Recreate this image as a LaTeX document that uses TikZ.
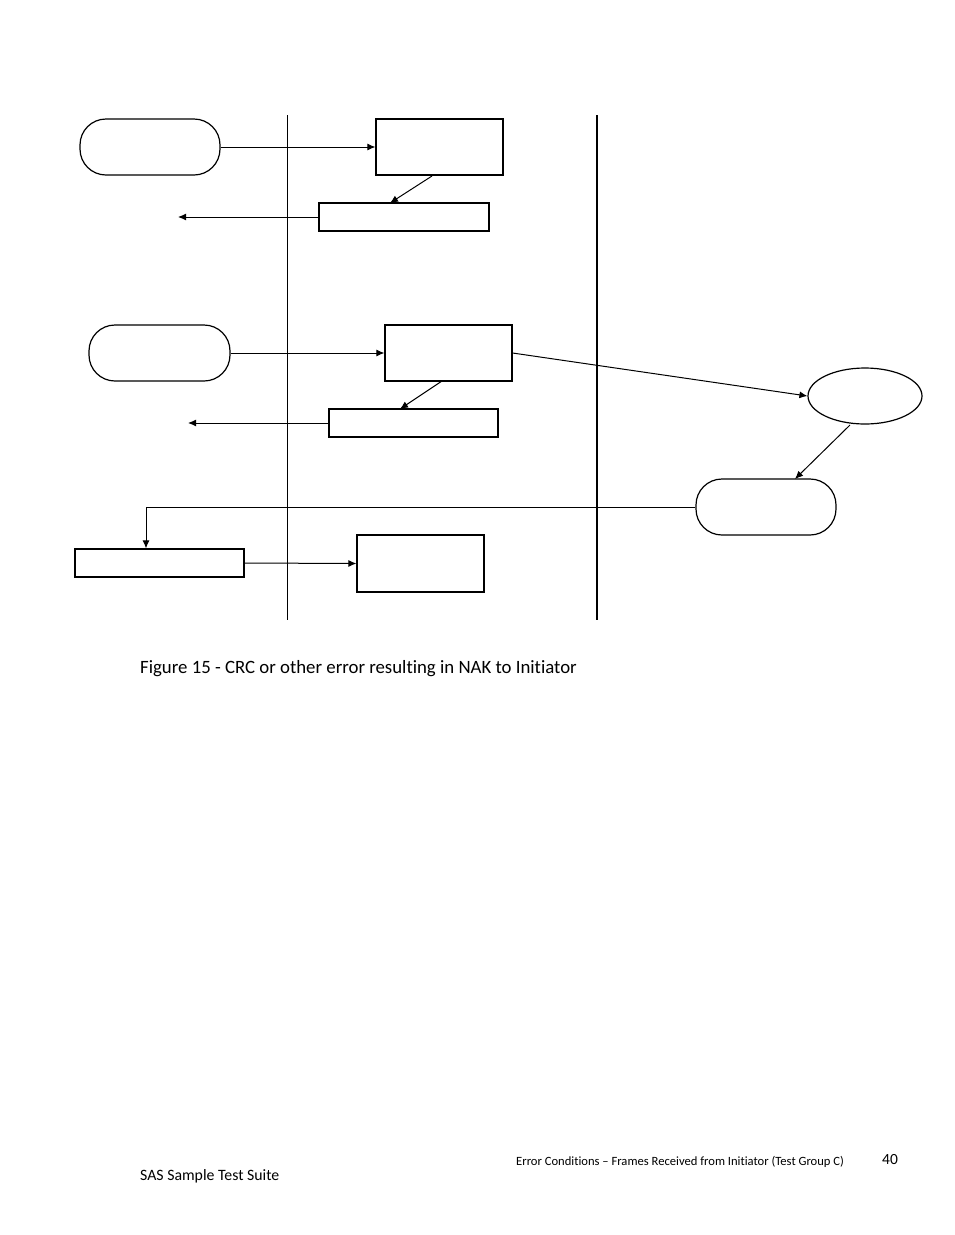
\documentclass[tikz,border=0pt]{standalone}
\usepackage{fontspec}
\setmainfont[Ligatures=NoCommon]{Carlito}
\usetikzlibrary{arrows.meta,shapes.geometric}
\begin{document}
\begin{tikzpicture}[x=1pt,y=-1pt,
  box/.style={draw,line width=1.2pt,inner sep=0pt},
  rbox/.style={draw,line width=1.2pt,rounded corners=26pt,inner sep=0pt},
  arr/.style={-{Latex[length=8pt,width=7pt]},line width=1pt},
  ln/.style={line width=1pt}]
\useasboundingbox (0,0) rectangle (954,1235);
\fill[white] (0,0) rectangle (954,1235);
\draw[line width=0.8pt] (287,115) -- (287,620);
\draw[line width=2pt] (597,115) -- (597,620);
\node[rbox,minimum width=140pt,minimum height=56pt] (r1) at (150,147) {};
\node[box,minimum width=127pt,minimum height=56pt] (a) at (439.5,147) {};
\node[box,minimum width=170pt,minimum height=28pt] (b) at (404,217) {};
\coordinate (bl) at (178,217);
\draw[arr] (r1.east) -- (a.west);
\draw[arr] (432,176) -- (390,203);
\draw[arr] (b.west) -- (bl);
\node[rbox,minimum width=141pt,minimum height=56pt] (r2) at (159.5,353) {};
\node[box,minimum width=127pt,minimum height=56pt] (c) at (448.5,353) {};
\node[box,minimum width=169pt,minimum height=28pt] (d) at (413.5,423) {};
\coordinate (dl) at (188,423);
\draw[arr] (r2.east) -- (c.west);
\draw[arr] (442,381) -- (400,409);
\draw[arr] (d.west) -- (dl);
\node[ellipse,draw,line width=1.2pt,minimum width=114pt,minimum height=56pt,inner sep=0pt] (e) at (865,396) {};
\draw[arr] (c.east) -- (e.west);
\node[rbox,minimum width=140pt,minimum height=56pt] (r3) at (766,507) {};
\draw[arr] (850,425) -- (795,479);
\node[box,minimum width=169pt,minimum height=28pt] (f) at (159.5,563) {};
\node[box,minimum width=127pt,minimum height=57pt] (g) at (420.5,563.5) {};
\draw[arr] (r3.west) -- (146,507) -- (f.north -| 146,0);
\draw[arr] (f.east) -- (g.west);
\node[anchor=west,font=\fontsize{18.8pt}{20pt}\selectfont,inner sep=0pt] (cap) at (140,669) {Figure 15 - CRC or other error resulting in NAK to Initiator};
\node[anchor=west,font=\fontsize{12.6pt}{14pt}\selectfont,inner sep=0pt] (f1) at (516,1162) {Error Conditions – Frames Received from Initiator (Test Group C)};
\node[anchor=west,font=\fontsize{15.5pt}{17pt}\selectfont,inner sep=0pt] (f2) at (882,1160) {40};
\node[anchor=west,font=\fontsize{15.8pt}{17pt}\selectfont,inner sep=0pt] (f3) at (140,1176) {SAS Sample Test Suite};
\end{tikzpicture}
\end{document}
